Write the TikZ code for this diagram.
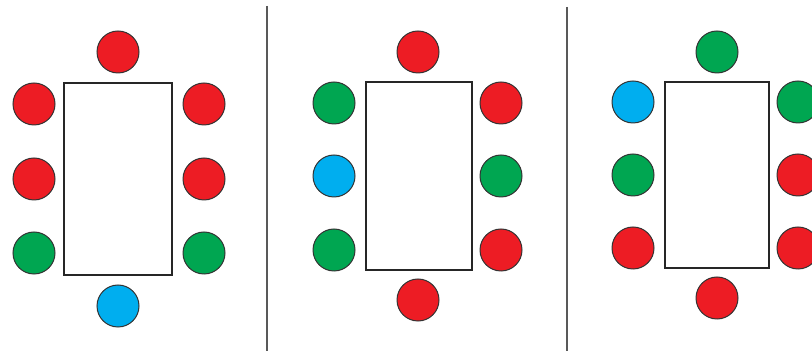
\documentclass[tikz,border=0pt]{standalone}
\definecolor{seatred}{HTML}{ED1C24}
\definecolor{seatgreen}{HTML}{00A651}
\definecolor{seatblue}{HTML}{00AEEF}
\tikzset{
	seat/.style={circle, draw=black!80, line width=0.5pt, minimum size=21pt, inner sep=0pt},
	tablebox/.style={draw=black!85, line width=1pt},
	divider/.style={draw=black!65, line width=0.7pt}
}
\begin{document}
\begin{tikzpicture}[x=0.5pt, y=-0.5pt]
		\useasboundingbox (0,0) rectangle (812,351);
		\clip (0,0) rectangle (812,351);
		\draw[divider] (267,6) -- (267,351);
		\draw[divider] (567,7) -- (567,351);
		\draw[tablebox] (64,83) rectangle (172,275);
		\draw[tablebox] (366,82) rectangle (472,270);
		\draw[tablebox] (665,82) rectangle (769,268);
		% first table
		\foreach \n/\x/\y/\c in {t/118/52/seatred, l1/34/104/seatred, l2/34/179/seatred, l3/34/253/seatgreen,
			r1/204/104/seatred, r2/204/179/seatred, r3/204/253/seatgreen, b/118/306/seatblue}
			\node[seat, fill=\c] (a\n) at (\x,\y) {};
		% second table
		\foreach \n/\x/\y/\c in {t/418/52/seatred, l1/334/103/seatgreen, l2/334/176/seatblue, l3/334/250/seatgreen,
			r1/501/103/seatred, r2/501/176/seatgreen, r3/501/250/seatred, b/418/300/seatred}
			\node[seat, fill=\c] (b\n) at (\x,\y) {};
		% third table
		\foreach \n/\x/\y/\c in {t/717/52/seatgreen, l1/633/102/seatblue, l2/633/175/seatgreen, l3/633/248/seatred,
			r1/798/102/seatgreen, r2/798/175/seatred, r3/798/248/seatred, b/717/298/seatred}
			\node[seat, fill=\c] (c\n) at (\x,\y) {};
	\end{tikzpicture}
\end{document}
